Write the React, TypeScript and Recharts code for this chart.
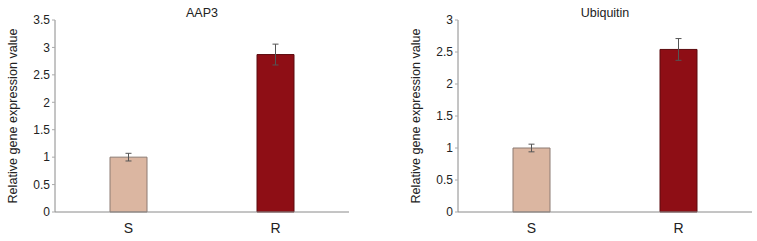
import React from 'react';
import { BarChart, Bar, Cell, XAxis, YAxis, ErrorBar } from 'recharts';

const categories = ['S', 'R'];
const aap3Values = [1.0, 2.87];
const aap3Errors = [0.07, 0.19];
const ubiquitinValues = [1.0, 2.54];
const ubiquitinErrors = [0.06, 0.17];
const aap3Ticks = [0, 0.5, 1, 1.5, 2, 2.5, 3, 3.5];
const ubiquitinTicks = [0, 0.5, 1, 1.5, 2, 2.5, 3];
const barFills = ['#dbb6a1', '#8e0e15'];
const barStrokes = ['#8c7b72', '#5c0a0e'];

const FONT = '"Liberation Sans", Arial, sans-serif';
const AXIS_COLOR = '#8a8a8a';

interface PanelProps {
  title: string;
  values: number[];
  errors: number[];
  ticks: number[];
  width: number;
  yAxisWidth: number;
  rightMargin: number;
}

function GenePanel({ title, values, errors, ticks, width, yAxisWidth, rightMargin }: PanelProps) {
  const data = categories.map((name, i) => ({ name, value: values[i], err: errors[i] }));
  const height = 241;
  const plotWidth = width - yAxisWidth - rightMargin;

  return (
    <div style={{ position: 'relative', width, height }}>
      <div
        style={{
          position: 'absolute',
          left: yAxisWidth,
          width: plotWidth,
          top: 6,
          textAlign: 'center',
          fontFamily: FONT,
          fontSize: 12.5,
          color: '#222',
        }}
      >
        {title}
      </div>
      <BarChart
        width={width}
        height={height}
        data={data}
        margin={{ top: 20, right: rightMargin, bottom: 0, left: 0 }}
        barCategoryGap={0}
      >
        {/* boundary ticks between categories */}
        <XAxis
          xAxisId="bounds"
          type="number"
          domain={[0, 2]}
          ticks={[0, 1, 2]}
          height={0}
          mirror
          axisLine={false}
          tickSize={4}
          tickLine={{ stroke: AXIS_COLOR }}
          tick={() => <g />}
        />
        <XAxis
          xAxisId="cat"
          dataKey="name"
          height={29}
          axisLine={{ stroke: AXIS_COLOR }}
          tickLine={false}
          tickMargin={5}
          tick={{ fill: '#222', fontSize: 14, fontFamily: FONT }}
        />
        <YAxis
          width={yAxisWidth}
          domain={[ticks[0], ticks[ticks.length - 1]]}
          ticks={ticks}
          interval={0}
          axisLine={{ stroke: AXIS_COLOR }}
          tickLine={{ stroke: '#aaa' }}
          tickSize={3}
          tickMargin={2}
          tick={{ fill: '#222', fontSize: 12, fontFamily: FONT }}
          label={(props: any) => {
            const vb = props.viewBox;
            const x = vb.x + vb.width - 42;
            const y = vb.y + vb.height / 2;
            return (
              <text
                x={x}
                y={y}
                transform={`rotate(-90, ${x}, ${y})`}
                textAnchor="middle"
                dominantBaseline="central"
                fontSize={12.6}
                fontFamily={FONT}
                fill="#222"
              >
                Relative gene expression value
              </text>
            );
          }}
        />
        <Bar xAxisId="cat" dataKey="value" barSize={37} isAnimationActive={false}>
          {data.map((d, i) => (
            <Cell key={d.name} fill={barFills[i]} stroke={barStrokes[i]} strokeWidth={1} />
          ))}
          <ErrorBar dataKey="err" width={3} stroke="#555" strokeWidth={1} isAnimationActive={false} />
        </Bar>
      </BarChart>
    </div>
  );
}

export default function App() {
  return (
    <div style={{ position: 'absolute', left: 0, top: 0, width: 757, height: 241, display: 'flex', background: '#fff' }}>
      <GenePanel
        title="AAP3"
        values={aap3Values}
        errors={aap3Errors}
        ticks={aap3Ticks}
        width={380}
        yAxisWidth={55}
        rightMargin={31}
      />
      <GenePanel
        title="Ubiquitin"
        values={ubiquitinValues}
        errors={ubiquitinErrors}
        ticks={ubiquitinTicks}
        width={377}
        yAxisWidth={78}
        rightMargin={5}
      />
    </div>
  );
}
